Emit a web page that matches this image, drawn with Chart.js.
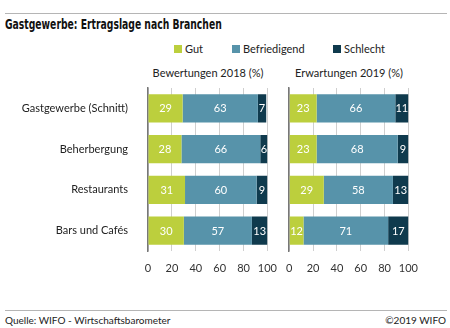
<!DOCTYPE html>
<html>
<head>
<meta charset="utf-8">
<script src="https://cdn.jsdelivr.net/npm/chart.js@4"></script>
<style>
  body { margin: 0; width: 450px; height: 328px; background: #fff; position: relative; overflow: hidden; font-family: Lato, sans-serif; color: #222; }
  .rule { position: absolute; left: 5px; width: 442px; height: 1px; background: #b5b5b5; }
  #title { position: absolute; left: 5px; top: 16px; font: bold 14px "DejaVu Sans Condensed", "Liberation Sans Narrow", sans-serif; color: #111; white-space: nowrap; transform-origin: 0 0; }
  .legend-item { position: absolute; top: 42px; font-size: 11px; white-space: nowrap; }
  .legend-item span { display: inline-block; width: 8px; height: 8px; margin-right: 3px; vertical-align: 0px; }
  .sub { position: absolute; top: 66px; font-size: 11px; white-space: nowrap; transform: translateX(-50%); }
  .foot { position: absolute; top: 314px; font-size: 10px; white-space: nowrap; }
  canvas { position: absolute; }
</style>
</head>
<body>
<div class="rule" style="top:13px"></div>
<div id="title">Gastgewerbe: Ertragslage nach Branchen</div>
<div id="legend"></div>
<div class="sub" style="left:208px">Bewertungen 2018 (%)</div>
<div class="sub" style="left:349px">Erwartungen 2019 (%)</div>
<div style="position:absolute;left:0;top:86px;width:288px;height:195px"><canvas id="chartLeft"></canvas></div>
<div style="position:absolute;left:275px;top:86px;width:154px;height:195px"><canvas id="chartRight"></canvas></div>
<div class="rule" style="top:310px"></div>
<div class="foot" style="left:5px">Quelle: WIFO - Wirtschaftsbarometer</div>
<div class="foot" style="right:4px">©2019 WIFO</div>

<script>
// Data
const categories = ['Gastgewerbe (Schnitt)', 'Beherbergung', 'Restaurants', 'Bars und Cafés'];
const seriesNames = ['Gut', 'Befriedigend', 'Schlecht'];
const seriesColors = ['#bccf3d', '#5793aa', '#0f3a4d'];

const gut2018 = [29, 28, 31, 30];
const befriedigend2018 = [63, 66, 60, 57];
const schlecht2018 = [7, 6, 9, 13];

const gut2019 = [23, 23, 29, 12];
const befriedigend2019 = [66, 68, 58, 71];
const schlecht2019 = [11, 9, 13, 17];

const xTicks = [0, 20, 40, 60, 80, 100];

// Squeeze the title to the condensed width of the original
const title = document.getElementById('title');
title.style.transform = 'scaleX(' + (217 / title.offsetWidth) + ')';

// Legend in HTML
const legendPos = [174, 232, 333];
const legend = document.getElementById('legend');
seriesNames.forEach(function(name, i) {
    const item = document.createElement('div');
    item.className = 'legend-item';
    item.style.left = legendPos[i] + 'px';
    item.innerHTML = '<span style="background:' + seriesColors[i] + '"></span>' + name;
    legend.appendChild(item);
});

// Draw the value in the middle of each segment
const valueLabels = {
    id: 'valueLabels',
    afterDatasetsDraw(chart) {
        const ctx = chart.ctx;
        ctx.save();
        ctx.font = '11px Lato, sans-serif';
        ctx.fillStyle = '#fff';
        ctx.textAlign = 'center';
        ctx.textBaseline = 'middle';
        chart.data.datasets.forEach(function(ds, i) {
            chart.getDatasetMeta(i).data.forEach(function(bar, j) {
                const x = (bar.x + bar.base) / 2;
                ctx.fillText(ds.data[j], x, bar.y + 0.5);
            });
        });
        ctx.restore();
    }
};

// Category names left of the first panel, placed with the y scale
const categoryLabels = {
    id: 'categoryLabels',
    afterDraw(chart, args, opts) {
        if (!opts.show) return;
        const ctx = chart.ctx;
        const y = chart.scales.y;
        ctx.save();
        ctx.font = '11px Lato, sans-serif';
        ctx.fillStyle = '#222';
        ctx.textAlign = 'right';
        ctx.textBaseline = 'middle';
        categories.forEach(function(c, i) {
            ctx.fillText(c, chart.chartArea.left - 20, y.getPixelForValue(i));
        });
        ctx.restore();
    }
};

function makeChart(canvasId, values, showLabels) {
    const ctx = document.getElementById(canvasId).getContext('2d');
    return new Chart(ctx, {
        type: 'bar',
        data: {
            labels: categories,
            datasets: values.map(function(v, i) {
                return {
                    label: seriesNames[i],
                    data: v,
                    backgroundColor: seriesColors[i],
                    borderWidth: 0,
                    barPercentage: 0.69,
                    categoryPercentage: 1
                };
            })
        },
        options: {
            indexAxis: 'y',
            responsive: true,
            maintainAspectRatio: false,
            animation: false,
            layout: {
                padding: { top: 2, right: 2, bottom: 0, left: showLabels ? 148 : 5 }
            },
            plugins: {
                legend: { display: false },
                tooltip: { enabled: false },
                categoryLabels: { show: showLabels }
            },
            scales: {
                x: {
                    stacked: true,
                    min: 0,
                    max: 100,
                    afterBuildTicks: function(scale) {
                        scale.ticks = xTicks.map(function(t) { return { value: t }; });
                    },
                    afterFit: function(scale) { scale.height = 30; },
                    grid: { color: '#cfcfcf', drawTicks: false },
                    border: { display: false },
                    ticks: {
                        padding: 11,
                        color: '#333',
                        font: { family: 'Lato', size: 11 },
                        maxRotation: 0,
                        autoSkip: false
                    }
                },
                y: {
                    stacked: true,
                    afterFit: function(scale) { scale.width = 0; },
                    grid: { display: false, drawTicks: false },
                    border: { display: true, color: '#777', width: 1.5 },
                    ticks: { display: false }
                }
            }
        },
        plugins: [valueLabels, categoryLabels]
    });
}

makeChart('chartLeft', [gut2018, befriedigend2018, schlecht2018], true);
makeChart('chartRight', [gut2019, befriedigend2019, schlecht2019], false);
</script>
</body>
</html>
